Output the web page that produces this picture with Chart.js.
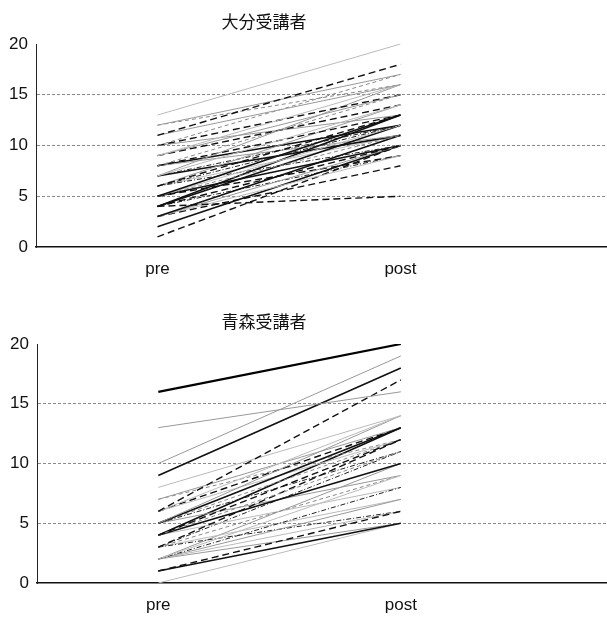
<!DOCTYPE html>
<html lang="ja">
<head>
<meta charset="UTF-8">
<title>受講者 pre / post</title>
<script src="https://cdn.jsdelivr.net/npm/chart.js"></script>
<style>
  html, body { margin: 0; padding: 0; background: #fff; overflow: hidden; }
  .panel { position: relative; width: 607px; }
</style>
</head>
<body>
  <div class="panel"><canvas id="oita" width="607" height="300"></canvas></div>
  <div class="panel"><canvas id="aomori" width="607" height="317"></canvas></div>
<script>
// categories on the x axis
const categories = ['pre', 'post'];
const yTicks = [0, 5, 10, 15, 20];

// 大分受講者 : one line per person, pre score -> post score
const oitaPre  = [13, 11, 11, 10, 12, 9, 9, 10, 8, 7, 7, 8, 6, 6, 6, 5, 5, 5, 4, 4, 4, 4, 3, 3, 3, 2, 1, 7, 9, 12, 8, 6, 5, 7, 6, 8, 10, 5, 4, 3];
const oitaPost = [20, 18, 16, 17, 17, 16, 15, 15, 15, 14, 16, 13, 13, 14, 12, 13, 12, 11, 13, 12, 10, 5, 11, 10, 9, 10, 10, 12, 14, 16, 11, 10, 9, 11, 11, 12, 13, 10, 9, 8];

// 青森受講者
const aomoriPre  = [16, 13, 10, 9, 6, 6, 5, 5, 4, 4, 3, 4, 2, 2, 2, 1, 1, 0, 2, 5, 6, 7, 3, 5, 3, 2, 4, 6, 5, 3, 8, 7, 4, 2, 3];
const aomoriPost = [20, 16, 19, 18, 17, 14, 14, 13, 12, 11, 12, 10, 9, 8, 7, 6, 5, 5, 6, 11, 12, 13, 9, 9, 6, 5, 8, 13, 12, 7, 14, 12, 13, 10, 11];

// line looks (black & white print)
const lineLooks = [
  { color: '#111', width: 1.6, dash: [] },
  { color: '#111', width: 1.4, dash: [7, 4] },
  { color: '#999', width: 1, dash: [] },
  { color: '#bbb', width: 1, dash: [] },
  { color: '#222', width: 1, dash: [5, 2, 1, 2] },
  { color: '#888', width: 1, dash: [4, 3] },
  { color: '#000', width: 2.2, dash: [] }
];
const oitaLook   = [3, 1, 2, 5, 2, 3, 2, 1, 5, 3, 2, 1, 1, 2, 4, 0, 3, 5, 0, 0, 1, 1, 0, 2, 3, 0, 1, 4, 1, 5, 2, 4, 1, 0, 3, 0, 2, 0, 4, 1];
const aomoriLook = [6, 2, 2, 0, 1, 3, 2, 0, 1, 5, 1, 0, 3, 4, 2, 1, 0, 3, 3, 4, 3, 2, 5, 2, 4, 2, 3, 1, 5, 3, 3, 5, 0, 2, 4];

const panelTitle = {
  id: 'panelTitle',
  afterDraw(chart, args, opts) {
    const ctx = chart.ctx;
    ctx.save();
    ctx.font = '17px "Noto Sans CJK JP"';
    ctx.fillStyle = '#111';
    ctx.textAlign = 'center';
    ctx.textBaseline = 'middle';
    ctx.fillText(opts.text, opts.x, opts.y);
    ctx.restore();
  }
};

function makePanel(id, title, pre, post, looks, axisLeft, xAxisHeight) {
  const datasets = pre.map((p, i) => {
    const look = lineLooks[looks[i]];
    return {
      data: [{ x: 1, y: p }, { x: 2, y: post[i] }],
      borderColor: look.color,
      borderWidth: look.width,
      borderDash: look.dash,
      pointRadius: 0,
      tension: 0,
      fill: false
    };
  });

  new Chart(document.getElementById(id), {
    type: 'line',
    data: { datasets },
    plugins: [panelTitle],
    options: {
      responsive: false,
      animation: false,
      layout: { padding: { top: 44, left: 0, right: 0, bottom: 0 } },
      plugins: {
        legend: { display: false },
        tooltip: { enabled: false },
        panelTitle: { text: title, x: 264, y: 22 }
      },
      scales: {
        x: {
          type: 'linear',
          min: 0.5,
          max: 2.85,
          afterBuildTicks: s => { s.ticks = categories.map((c, i) => ({ value: i + 1 })); },
          afterFit: s => { s.height = xAxisHeight; },
          ticks: {
            callback: v => categories[v - 1] || '',
            font: { family: '"Liberation Sans", Arial', size: 17 },
            color: '#111',
            padding: 12,
            maxRotation: 0
          },
          grid: { display: false, drawTicks: false },
          border: { display: true, color: '#111', width: 1.6 }
        },
        y: {
          min: 0,
          max: 20,
          afterBuildTicks: s => { s.ticks = yTicks.map(v => ({ value: v })); },
          afterFit: s => { s.width = axisLeft; },
          ticks: {
            font: { family: '"Liberation Sans", Arial', size: 17 },
            color: '#111',
            padding: 8
          },
          grid: {
            drawTicks: false,
            color: c => (c.tick && (c.tick.value === 0 || c.tick.value === 20)) ? 'rgba(0,0,0,0)' : '#8a8a8a',
            lineWidth: 1
          },
          border: { display: true, color: '#222', width: 1, dash: [3, 2] }
        }
      }
    }
  });
}

makePanel('oita', '大分受講者', oitaPre, oitaPost, oitaLook, 36, 53);
makePanel('aomori', '青森受講者', aomoriPre, aomoriPost, aomoriLook, 37, 34);
</script>
</body>
</html>
